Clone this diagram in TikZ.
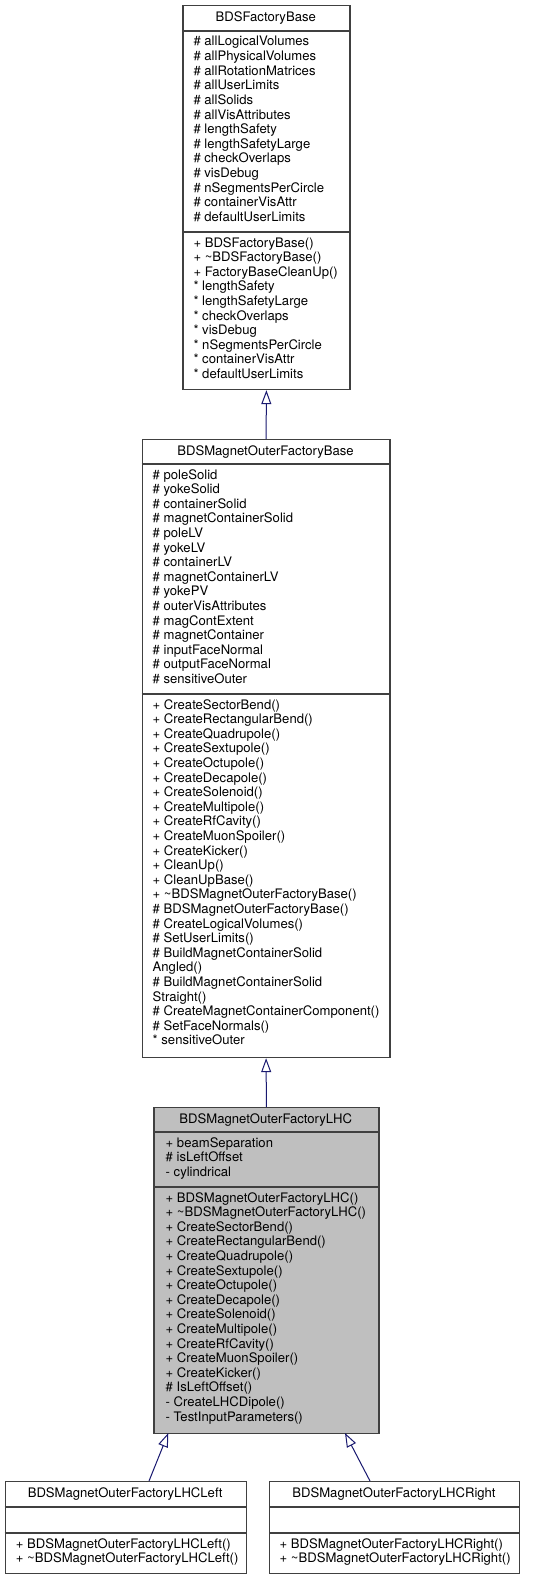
\documentclass[tikz,border=0pt]{standalone}
\usepackage{fontspec}
\setmainfont{TeX Gyre Heros}
\usetikzlibrary{arrows.meta}
\definecolor{boxgray}{HTML}{404040}
\definecolor{arrowblue}{HTML}{191970}
\definecolor{lhcfill}{HTML}{BFBFBF}
\tikzset{
  boxst/.style={draw=boxgray, line width=1.2pt, inner sep=0pt, anchor=north west, fill=white},
  sepline/.style={draw=boxgray, line width=1.2pt},
  txt/.style={anchor=base west, inner sep=0pt, font=\fontsize{13.1}{14.6}\selectfont},
  ttl/.style={anchor=base, inner sep=0pt, font=\fontsize{13.1}{14.6}\selectfont},
  inh/.style={draw=arrowblue, line width=1pt, -{Triangle[length=14pt,width=10pt,fill=white]}},
}
\begin{document}
\begin{tikzpicture}[x=1pt,y=-1pt]
\useasboundingbox[fill=white] (0,0) rectangle (536,1579);

% ---------- BDSFactoryBase ----------
\node[boxst, minimum width=167pt, minimum height=384pt] (b1) at (182.3,5) {};
\draw[sepline] (182.3,31) -- (349.3,31);
\draw[sepline] (182.3,232) -- (349.3,232);
\node[ttl] (b1t) at (265.8,21.5) {BDSFactoryBase};
\foreach \t [count=\i from 0] in {\# allLogicalVolumes,\# allPhysicalVolumes,\# allRotationMatrices,\# allUserLimits,\# allSolids,\# allVisAttributes,\# lengthSafety,\# lengthSafetyLarge,\# checkOverlaps,\# visDebug,\# nSegmentsPerCircle,\# containerVisAttr,\# defaultUserLimits}
  \node[txt] (b1a\i) at (193.3,46+\i*14.6) {\t};
\foreach \t [count=\i from 0] in {+ BDSFactoryBase(),+ \textasciitilde BDSFactoryBase(),+ FactoryBaseCleanUp(),* lengthSafety,* lengthSafetyLarge,* checkOverlaps,* visDebug,* nSegmentsPerCircle,* containerVisAttr,* defaultUserLimits}
  \node[txt] (b1m\i) at (193.3,247+\i*14.6) {\t};

% ---------- BDSMagnetOuterFactoryBase ----------
\node[boxst, minimum width=247.6pt, minimum height=618pt] (b2) at (141.7,439) {};
\draw[sepline] (141.7,464) -- (389.3,464);
\draw[sepline] (141.7,694) -- (389.3,694);
\node[ttl] (b2t) at (265.5,455.5) {BDSMagnetOuterFactoryBase};
\foreach \t [count=\i from 0] in {\# poleSolid,\# yokeSolid,\# containerSolid,\# magnetContainerSolid,\# poleLV,\# yokeLV,\# containerLV,\# magnetContainerLV,\# yokePV,\# outerVisAttributes,\# magContExtent,\# magnetContainer,\# inputFaceNormal,\# outputFaceNormal,\# sensitiveOuter}
  \node[txt] (b2a\i) at (152.5,479+\i*14.6) {\t};
\foreach \t [count=\i from 0] in {+ CreateSectorBend(),+ CreateRectangularBend(),+ CreateQuadrupole(),+ CreateSextupole(),+ CreateOctupole(),+ CreateDecapole(),+ CreateSolenoid(),+ CreateMultipole(),+ CreateRfCavity(),+ CreateMuonSpoiler(),+ CreateKicker(),+ CleanUp(),+ CleanUpBase(),+ \textasciitilde BDSMagnetOuterFactoryBase(),\# BDSMagnetOuterFactoryBase(),\# CreateLogicalVolumes(),\# SetUserLimits(),\# BuildMagnetContainerSolid,Angled(),\# BuildMagnetContainerSolid,Straight(),\# CreateMagnetContainerComponent(),\# SetFaceNormals(),* sensitiveOuter}
  \node[txt] (b2m\i) at (152.5,709+\i*14.6) {\t};

% ---------- BDSMagnetOuterFactoryLHC ----------
\node[boxst, fill=lhcfill, minimum width=225pt, minimum height=326pt] (b3) at (153.3,1107) {};
\draw[sepline] (153.3,1132) -- (378.3,1132);
\draw[sepline] (153.3,1187) -- (378.3,1187);
\node[ttl] (b3t) at (265.8,1123.5) {BDSMagnetOuterFactoryLHC};
\foreach \t [count=\i from 0] in {+ beamSeparation,\# isLeftOffset,- cylindrical}
  \node[txt] (b3a\i) at (165.5,1147+\i*14.6) {\t};
\foreach \t [count=\i from 0] in {+ BDSMagnetOuterFactoryLHC(),+ \textasciitilde BDSMagnetOuterFactoryLHC(),+ CreateSectorBend(),+ CreateRectangularBend(),+ CreateQuadrupole(),+ CreateSextupole(),+ CreateOctupole(),+ CreateDecapole(),+ CreateSolenoid(),+ CreateMultipole(),+ CreateRfCavity(),+ CreateMuonSpoiler(),+ CreateKicker(),\# IsLeftOffset(),- CreateLHCDipole(),- TestInputParameters()}
  \node[txt] (b3m\i) at (165.5,1202+\i*14.6) {\t};

% ---------- BDSMagnetOuterFactoryLHCLeft ----------
\node[boxst, minimum width=241pt, minimum height=92pt] (b4) at (4.7,1481) {};
\draw[sepline] (4.7,1507) -- (245.7,1507);
\draw[sepline] (4.7,1533) -- (245.7,1533);
\node[ttl] (b4t) at (125.2,1497.5) {BDSMagnetOuterFactoryLHCLeft};
\node[txt] (b4m0) at (15.7,1548) {+ BDSMagnetOuterFactoryLHCLeft()};
\node[txt] (b4m1) at (15.7,1562.6) {+ \textasciitilde BDSMagnetOuterFactoryLHCLeft()};

% ---------- BDSMagnetOuterFactoryLHCRight ----------
\node[boxst, minimum width=250pt, minimum height=92pt] (b5) at (269,1481) {};
\draw[sepline] (269,1507) -- (519,1507);
\draw[sepline] (269,1533) -- (519,1533);
\node[ttl] (b5t) at (394,1497.5) {BDSMagnetOuterFactoryLHCRight};
\node[txt] (b5m0) at (279.5,1548) {+ BDSMagnetOuterFactoryLHCRight()};
\node[txt] (b5m1) at (279.5,1562.6) {+ \textasciitilde BDSMagnetOuterFactoryLHCRight()};

% ---------- inheritance connectors ----------
\coordinate (b4top) at (149,1481);
\coordinate (b3botL) at (168.3,1433);
\coordinate (b5top) at (370,1481);
\coordinate (b3botR) at (345,1433);
\draw[inh] (b2.north) -- (b1.south);
\draw[inh] (b3.north) -- (b2.south);
\draw[inh] (b4top) -- (b3botL);
\draw[inh] (b5top) -- (b3botR);
\end{tikzpicture}
\end{document}
